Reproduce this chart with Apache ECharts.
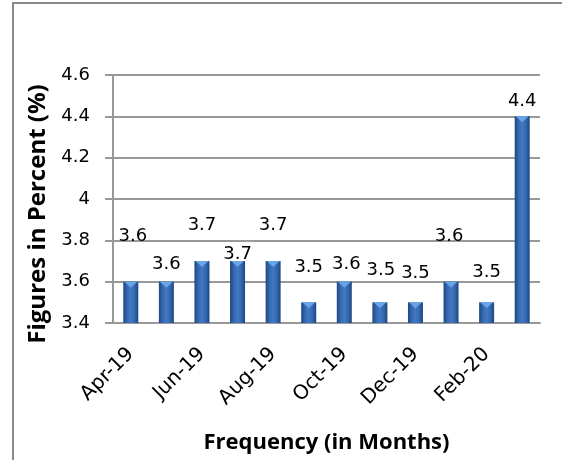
<!DOCTYPE html>
<html>
<head>
<meta charset="utf-8">
<script src="https://cdn.jsdelivr.net/npm/echarts@6/dist/echarts.min.js"></script>
<style>
  html, body { margin: 0; padding: 0; background: #ffffff; }
  #chart { width: 562px; height: 460px; }
</style>
</head>
<body>
<div id="chart"></div>
<script>
// Monthly figures, April 2019 to March 2020
const months = ['Apr-19', 'May-19', 'Jun-19', 'Jul-19', 'Aug-19', 'Sep-19',
                'Oct-19', 'Nov-19', 'Dec-19', 'Jan-20', 'Feb-20', 'Mar-20'];
const values = [3.6, 3.6, 3.7, 3.7, 3.7, 3.5, 3.6, 3.5, 3.5, 3.6, 3.5, 4.4];
const yTicks = [3.4, 3.6, 3.8, 4, 4.2, 4.4, 4.6];

// Hand-placed value label nudges [dx, dy] in pixels
const labelNudges = [[2, -31], [0, -3], [0, -22], [0, 7], [0, -22], [0, -21],
                     [2, -3], [1, -18], [0, -15], [-2, -31], [0, -16], [0, -1]];

const TEXT_FONT = 'DejaVu Sans';
const TITLE_FONT = 'Open Sans';

const chart = echarts.init(document.getElementById('chart'), null, { renderer: 'canvas' });

const barFill = new echarts.graphic.LinearGradient(0, 0, 1, 0, [
  { offset: 0, color: '#1d467f' },
  { offset: 0.25, color: '#3468b1' },
  { offset: 0.5, color: '#4378c2' },
  { offset: 0.75, color: '#3468b1' },
  { offset: 1, color: '#1d467f' }
]);

chart.setOption({
  backgroundColor: '#ffffff',
  animation: false,
  graphic: [{
    // chart-area frame: only the left and top edges fall inside the page
    type: 'polyline',
    shape: { points: [[13, 460], [13, 3], [562, 3]] },
    style: { fill: null, stroke: '#8a8a8a', lineWidth: 2 },
    silent: true
  }],
  grid: { left: 113, top: 75, width: 427, height: 248, containLabel: false },
  xAxis: {
    type: 'category',
    data: months,
    name: 'Frequency (in Months)',
    nameLocation: 'middle',
    nameGap: 109,
    nameTextStyle: { fontFamily: TITLE_FONT, fontWeight: 'bold', fontSize: 22, color: '#000' },
    axisLine: { show: true, lineStyle: { color: '#999999', width: 2 } },
    axisTick: { show: false },
    axisLabel: {
      interval: 1,
      rotate: 45,
      margin: 28,
      fontFamily: TEXT_FONT,
      fontSize: 20,
      color: '#000'
    }
  },
  yAxis: {
    type: 'value',
    min: yTicks[0],
    max: yTicks[yTicks.length - 1],
    interval: 0.2,
    name: 'Figures in Percent (%)',
    nameLocation: 'middle',
    nameGap: 56,
    nameTextStyle: {
      fontFamily: TITLE_FONT, fontWeight: 'bold', fontSize: 24, color: '#000',
      padding: [0, 30, 0, 0]
    },
    axisLine: { show: true, lineStyle: { color: '#999999', width: 2 } },
    axisTick: { show: true, length: 8, lineStyle: { color: '#999999', width: 2 } },
    splitLine: { show: true, lineStyle: { color: '#999999', width: 2 } },
    axisLabel: {
      margin: 23,
      fontFamily: TEXT_FONT,
      fontSize: 18,
      color: '#000',
      formatter: v => String(Math.round(v * 10) / 10)
    }
  },
  series: [{
    type: 'bar',
    barWidth: 15,
    data: values.map((v, i) => ({
      value: v,
      label: { offset: labelNudges[i] }
    })),
    itemStyle: { color: barFill },
    label: {
      show: true,
      position: 'top',
      distance: 5,
      fontFamily: TEXT_FONT,
      fontSize: 18,
      color: '#000'
    },
    z: 2
  }, {
    // bevel highlight on each bar top
    type: 'scatter',
    data: values,
    symbol: 'triangle',
    symbolRotate: 180,
    symbolSize: [13, 6],
    symbolOffset: [0, 3],
    itemStyle: { color: '#6aa6e8', opacity: 0.95 },
    silent: true,
    z: 3
  }]
});
</script>
</body>
</html>
